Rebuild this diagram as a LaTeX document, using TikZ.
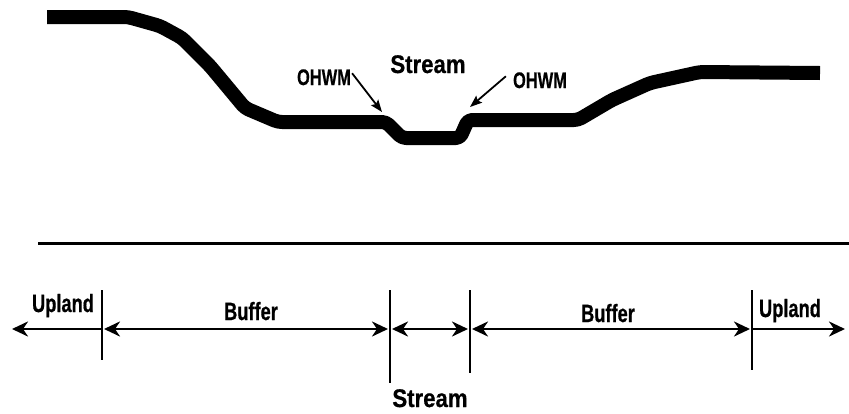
\documentclass[tikz,border=0pt]{standalone}
\usepackage{fontspec}
\newfontfamily\narrowfont[FakeStretch=0.73,FakeBold=0.6]{Liberation Sans}
\newfontfamily\streamfont[FakeStretch=0.87,FakeBold=0.6]{Liberation Sans}
\usetikzlibrary{arrows.meta}
\begin{document}
\begin{tikzpicture}[x=1pt,y=-1pt,
  lbl/.style={inner sep=0pt,anchor=base,font=\narrowfont\bfseries\fontsize{25}{25}\selectfont},
  ohwm/.style={inner sep=0pt,anchor=base,font=\narrowfont\bfseries\fontsize{22.5}{22.5}\selectfont},
  strm/.style={inner sep=0pt,anchor=base,font=\streamfont\bfseries\fontsize{25.5}{25.5}\selectfont},
  profile/.style={line width=14pt,line join=round,rounded corners=4pt},
  tick/.style={line width=2.5pt},
  dim/.style={line width=2.6pt,{Stealth[length=16pt,width=15pt,inset=5pt]}-{Stealth[length=16pt,width=15pt,inset=5pt]}},
  dimr/.style={line width=2.6pt,-{Stealth[length=16pt,width=15pt,inset=5pt]}},
  pointer/.style={line width=1.8pt,-{Stealth[length=12pt,width=9pt,inset=2pt]}}]
\useasboundingbox (0,0) rectangle (849,413);
% ground profile
\draw[profile] (47,17) -- (128,17) -- (160,26) -- (182,38) -- (210,66) -- (245,108) -- (278,122)
  -- (386,122) -- (402,138) -- (460,138) -- (468,120) -- (578,120) -- (612,100) -- (650,83)
  -- (700,72) -- (820,73);
% labels in profile
\node[strm] (st1) at (428,73) {Stream};
\node[ohwm] (oh1) at (324,85) {OHWM};
\node[ohwm] (oh2) at (540,88) {OHWM};
\coordinate (oh1t) at (382,112);
\coordinate (oh2t) at (470,107);
\draw[pointer] (oh1.east) ++(1,-4) coordinate (oh1s) -- (oh1t);
\draw[pointer] (oh2.west) ++(-7,-4) coordinate (oh2s) -- (oh2t);
% separating line
\coordinate (hl1) at (38,243);
\coordinate (hl2) at (849,243);
\draw[line width=3pt] (hl1) -- (hl2);
% ticks
\coordinate (t1a) at (102,290); \coordinate (t1b) at (102,360);
\coordinate (t2a) at (390,290); \coordinate (t2b) at (390,383);
\coordinate (t3a) at (470,290); \coordinate (t3b) at (470,373);
\coordinate (t4a) at (752,290); \coordinate (t4b) at (752,370);
\draw[tick] (t1a) -- (t1b);
\draw[tick] (t2a) -- (t2b);
\draw[tick] (t3a) -- (t3b);
\draw[tick] (t4a) -- (t4b);
% dimension arrows
\coordinate (e0) at (12,329);
\coordinate (d1) at (102,329);
\coordinate (d2) at (390,329);
\coordinate (d3) at (470,329);
\coordinate (d4) at (752,329);
\coordinate (e5) at (845,329);
\draw[dimr] (d1) -- (e0);
\draw[dim] ([xshift=2pt]d1) -- ([xshift=-2pt]d2);
\draw[dim] ([xshift=2pt]d2) -- ([xshift=-2pt]d3);
\draw[dim] ([xshift=2pt]d3) -- ([xshift=-2pt]d4);
\draw[dimr] (d4) -- (e5);
% labels
\node[lbl] (up1) at (63,312) {Upland};
\node[lbl] (bu1) at (251,320) {Buffer};
\node[lbl] (bu2) at (608,322) {Buffer};
\node[lbl] (up2) at (790,317) {Upland};
\node[strm] (st2) at (430,407) {Stream};
\end{tikzpicture}
\end{document}
